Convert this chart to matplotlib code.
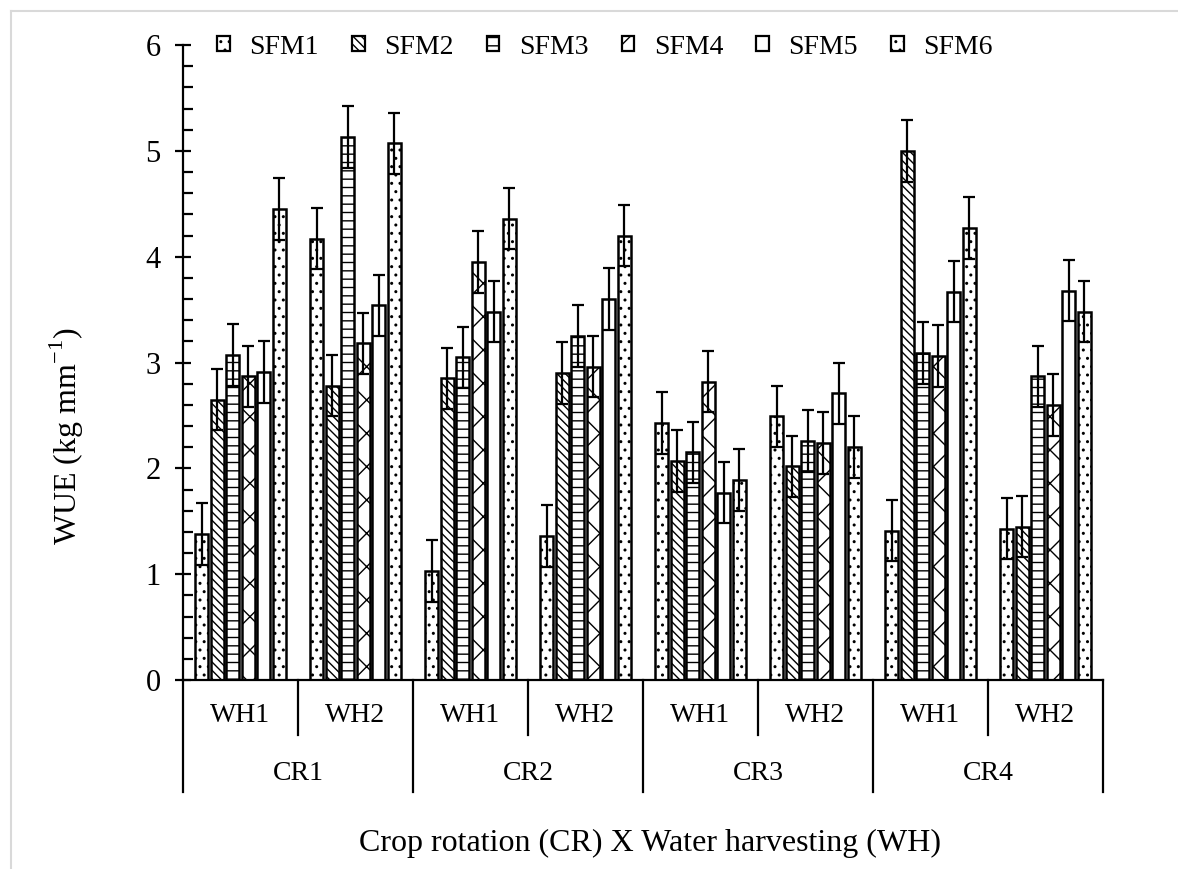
import numpy as np
import matplotlib.pyplot as plt
from matplotlib.patches import Rectangle
from matplotlib.lines import Line2D

plt.rcParams['font.family'] = ['Liberation Serif', 'DejaVu Serif']
plt.rcParams['mathtext.fontset'] = 'custom'
plt.rcParams['mathtext.rm'] = 'Liberation Serif'
plt.rcParams['hatch.linewidth'] = 1.0

# Data ~~~~~~~~~~~~~~~~~~~~~~~~~~~~~~~~~~~~~~~~~~~~~~~~~~~~~~~~~~~~~~~~~~~~~~~~~~
crops = ['CR1', 'CR2', 'CR3', 'CR4']
water = ['WH1', 'WH2']
series = ['SFM1', 'SFM2', 'SFM3', 'SFM4', 'SFM5', 'SFM6']

# one list per series, groups in order CR1-WH1, CR1-WH2, CR2-WH1, ... CR4-WH2
sfm1 = [1.38, 4.17, 1.03, 1.36, 2.43, 2.49, 1.41, 1.43]
sfm2 = [2.65, 2.78, 2.85, 2.90, 2.07, 2.02, 5.00, 1.45]
sfm3 = [3.07, 5.13, 3.05, 3.25, 2.15, 2.26, 3.09, 2.87]
sfm4 = [2.87, 3.18, 3.95, 2.96, 2.82, 2.24, 3.06, 2.60]
sfm5 = [2.91, 3.54, 3.48, 3.60, 1.77, 2.71, 3.67, 3.68]
sfm6 = [4.45, 5.07, 4.36, 4.20, 1.89, 2.20, 4.27, 3.48]
err = 0.29  # same error bar on every bar

hatches = ['..', '\\\\\\\\', '--', 'x', '', '..']

# Plot ~~~~~~~~~~~~~~~~~~~~~~~~~~~~~~~~~~~~~~~~~~~~~~~~~~~~~~~~~~~~~~~~~~~~~~~~~~
fig = plt.figure(figsize=(11.78, 8.69), dpi=100)
ax = fig.add_axes([183/1178, 1 - 680/869, 920/1178, 635/869])

fs = 20
ngroups = len(crops) * len(water)
x = np.arange(ngroups) + 0.5
pitch = 0.134
width = 0.113

handles = []
for j, (vals, h, name) in enumerate(zip([sfm1, sfm2, sfm3, sfm4, sfm5, sfm6], hatches, series)):
    pos = x + (j - 2.5) * pitch
    ax.bar(pos, vals, width, color='white', edgecolor='black', linewidth=1.8,
           hatch=h, zorder=2)
    ax.errorbar(pos, vals, yerr=err, fmt='none', ecolor='black', elinewidth=1.6,
                capsize=4, capthick=1.6, zorder=3)
    handles.append(Rectangle((0, 0), 1, 1, facecolor='white', edgecolor='black',
                             linewidth=1.6, hatch=h, label=name))

ax.set_xlim(0, ngroups)
ax.set_ylim(0, 6)
ax.set_yticks(np.arange(0, 7, 1))
ax.set_yticks(np.arange(0, 6.01, 0.2), minor=True)
ax.tick_params(axis='y', which='major', direction='inout', length=12, width=1.6,
               labelsize=22, pad=10)
ax.tick_params(axis='y', which='minor', direction='in', length=7, width=1.6)
ax.set_xticks([])
for s in ['top', 'right']:
    ax.spines[s].set_visible(False)
ax.spines['left'].set_linewidth(1.6)
ax.spines['bottom'].set_linewidth(1.6)

# hierarchical category axis
tr = ax.get_xaxis_transform()
wh_low = -55 / 635
cr_low = -112 / 635
for k in range(ngroups + 1):
    low = cr_low if k % 2 == 0 else wh_low
    ax.add_line(Line2D([k, k], [0, low], transform=tr, color='black', linewidth=1.6,
                       clip_on=False))
for k in range(ngroups):
    ax.text(k + 0.5, -35 / 635, water[k % 2], transform=tr, ha='center', va='center',
            fontsize=fs)
for c in range(len(crops)):
    ax.text(2 * c + 1, -93 / 635, crops[c], transform=tr, ha='center', va='center',
            fontsize=fs)

fig.text(650 / 1178, 1 - 843 / 869, 'Crop rotation (CR) X Water harvesting (WH)',
         ha='center', va='center', fontsize=23)
fig.text(67 / 1178, 1 - 436 / 869, 'WUE (kg mm$^{-1}$)', rotation=90,
         ha='center', va='center', fontsize=23)

fig.legend(handles=handles, loc='center', bbox_to_anchor=(605 / 1178, 1 - 47 / 869),
           ncol=6, frameon=False, fontsize=fs, handlelength=0.45, handleheight=0.45,
           handletextpad=0.7, columnspacing=1.2)

# light grey chart border
fig.add_artist(Line2D([11 / 1178, 11 / 1178], [0, 1 - 11 / 869], color='#d9d9d9',
                      linewidth=1.5, transform=fig.transFigure))
fig.add_artist(Line2D([11 / 1178, 1], [1 - 11 / 869, 1 - 11 / 869], color='#d9d9d9',
                      linewidth=1.5, transform=fig.transFigure))

fig.savefig('out.png', dpi=100)
